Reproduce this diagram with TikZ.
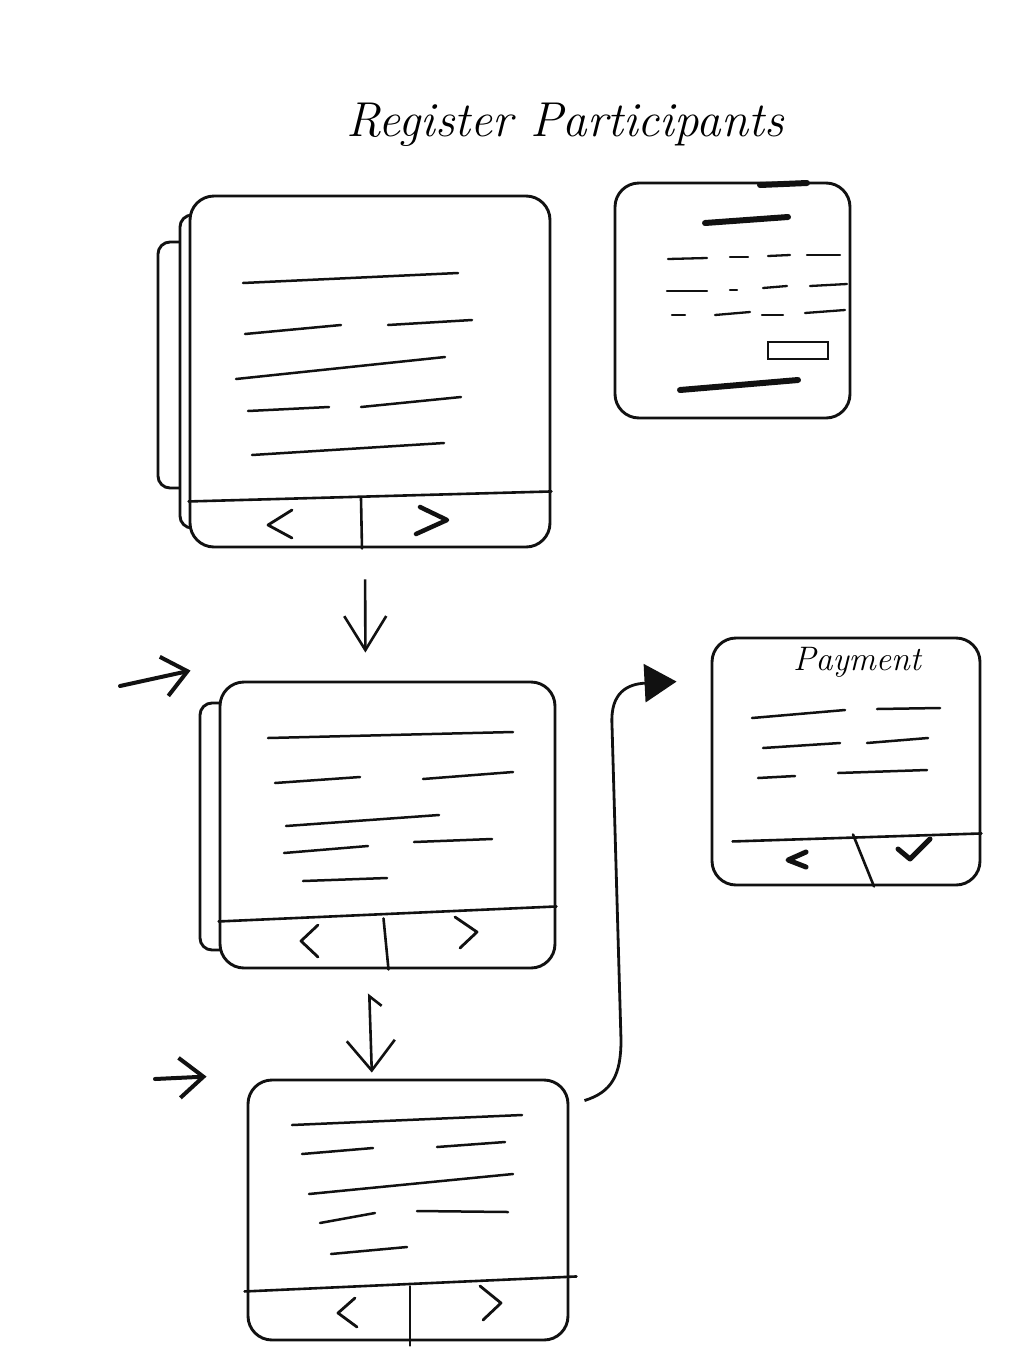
\documentclass[tikz,border=0pt]{standalone}
\usepackage{tikz}
\usetikzlibrary{arrows.meta}

\begin{document}
\begin{tikzpicture}[x=1pt,y=-1pt]

\definecolor{sketchink}{HTML}{111111}

\tikzset{
  screen/.style={
    draw=sketchink, fill=white, line width=2.9pt,
    rounded corners=24pt, inner sep=0pt
  },
  backsheet/.style={
    draw=sketchink, fill=white, line width=2.9pt, rounded corners=12pt
  },
  textline/.style={draw=sketchink, line width=2.5pt, line cap=round},
  boldline/.style={draw=sketchink, line width=6pt, line cap=round},
  barline/.style={draw=sketchink, line width=2.6pt, line cap=round},
  chevron/.style={
    draw=sketchink, line width=2.8pt, line cap=round, line join=round
  },
  flowarrow/.style={
    draw=sketchink, line width=2.6pt,
    -{Straight Barb[length=34pt,width=42pt]}
  },
  entryarrow/.style={
    draw=sketchink, line width=4pt, line cap=round,
    -{Straight Barb[length=24pt,width=40pt]}
  },
  paycurve/.style={
    draw=sketchink, line width=2.8pt,
    -{Triangle[length=32pt,width=38pt]}
  }
}

% page frame
\fill[white] (0,0) rectangle (1013,1350);
\useasboundingbox (0,0) rectangle (1013,1350);

\node[font=\fontsize{49}{56}\selectfont\itshape, anchor=base] (titletext)
  at (565,136) {Register Participants};

% First list screen, with two sheets behind it.
\draw[backsheet] (158,242) rectangle (260,488);
\draw[backsheet] (180,215) rectangle (280,528);
\node[screen, minimum width=360pt, minimum height=351pt] (pageone)
  at (370,371.5) {};
\draw[barline] ([yshift=47pt]pageone.south west)
  -- ([yshift=57pt]pageone.south east);
\draw[barline] ([xshift=-9pt,yshift=50pt]pageone.south)
  -- ([xshift=-8pt]pageone.south);
\foreach \xa/\ya/\xb/\yb in {
  243/283/458/273,
  245/334/341/325, 388/325/472/320,
  236/379/445/357,
  248/411/329/407, 361/407/461/397,
  252/455/444/443}
  \draw[textline] (\xa,\ya) -- (\xb,\yb);
\draw[chevron] (292,510) -- (268,525) -- (292,538);
\draw[chevron, line width=4.5pt] (420,507) -- (447,520) -- (416,534);

% Summary screen.
\node[screen, minimum width=235pt, minimum height=235pt] (summarypage)
  at (732.5,300.5) {};
\draw[boldline] (760,185) -- (807,183);
\draw[boldline] (705,223) -- (788,217);
\draw[boldline] (680,390) -- (798,380);
\foreach \xa/\ya/\xb/\yb in {
  668/259/707/258, 730/257/748/257, 768/256/790/255, 807/255/840/255,
  667/291/707/291, 730/290/737/290, 763/288/787/286, 810/286/847/284,
  672/315/685/315, 715/315/750/312, 762/315/783/315, 805/313/845/310}
  \draw[textline, line width=2.3pt] (\xa,\ya) -- (\xb,\yb);
\draw[textline, line width=2.3pt] (768,342) rectangle (828,359);

% Second list screen.
\draw[backsheet] (200,703) rectangle (280,950);
\node[screen, minimum width=335pt, minimum height=286pt] (pagethree)
  at (387.5,825) {};
\draw[barline] ([yshift=48pt]pagethree.south west)
  -- ([yshift=63pt]pagethree.south east);
\draw[barline] ([xshift=-4pt,yshift=51pt]pagethree.south)
  -- ([xshift=1pt]pagethree.south);
\foreach \xa/\ya/\xb/\yb in {
  268/738/513/732,
  275/783/360/777, 423/779/513/772,
  286/826/439/815,
  284/853/368/846, 414/842/492/839,
  303/881/387/878}
  \draw[textline] (\xa,\ya) -- (\xb,\yb);
\draw[chevron] (318,925) -- (301,941) -- (318,957);
\draw[chevron] (455,917) -- (477,932) -- (460,948);

% Last list screen.
\node[screen, minimum width=320pt, minimum height=260pt] (pagefour)
  at (408,1210) {};
\draw[barline] ([xshift=-2pt,yshift=50pt]pagefour.south west)
  -- ([xshift=7pt,yshift=65pt]pagefour.south east);
\draw[barline] ([xshift=2pt,yshift=55pt]pagefour.south)
  -- ([xshift=2pt,yshift=-4pt]pagefour.south);
\foreach \xa/\ya/\xb/\yb in {
  292/1125/522/1115,
  302/1154/373/1148, 437/1147/505/1142,
  309/1194/513/1174,
  320/1223/375/1213, 417/1211/508/1212,
  331/1254/407/1247}
  \draw[textline] (\xa,\ya) -- (\xb,\yb);
\draw[chevron] (355,1298) -- (338,1313) -- (357,1327);
\draw[chevron] (480,1286) -- (501,1303) -- (483,1320);

% Payment screen.
\node[screen, minimum width=268pt, minimum height=247pt] (paymentpage)
  at (846,761.5) {};
\node[font=\fontsize{34}{40}\selectfont\itshape] (paytitle)
  at (857,662) {Payment};
\draw[barline] ([xshift=22pt,yshift=45pt]paymentpage.south west)
  -- ([yshift=53pt]paymentpage.south east);
\draw[barline] ([xshift=7pt,yshift=52pt]paymentpage.south)
  -- ([xshift=28pt]paymentpage.south);
\foreach \xa/\ya/\xb/\yb in {
  752/718/845/710, 877/709/940/708,
  763/748/840/743, 867/743/928/738,
  758/778/795/776, 838/773/927/770}
  \draw[textline] (\xa,\ya) -- (\xb,\yb);
\draw[chevron, line width=5pt] (806,852) -- (788,860) -- (806,867);
\draw[chevron, line width=5pt] (898,849) -- (910,859) -- (930,839);

% Flow between screens.
\draw[flowarrow, shorten <=31pt, shorten >=28pt]
  ([xshift=-5pt]pageone.south) -- ([xshift=-22pt]pagethree.north);
\draw[flowarrow, shorten <=24pt, shorten >=6pt,
  arrows={Straight Barb[right,length=10pt,width=24pt]
    -Straight Barb[length=30pt,width=48pt]}]
  ([xshift=-19pt]pagethree.south) -- ([xshift=-36pt]pagefour.north);
\draw[paycurve]
  ([xshift=15pt,yshift=-22pt]pagefour.north east)
  .. controls (612,1092) and (621,1075) .. (621,1040)
  -- (612,725)
  .. controls (610,692) and (628,684) ..
  ([xshift=-34pt,yshift=-45pt]paymentpage.north west);

% Entry points.
\coordinate (entrytwo) at (120,686);
\coordinate (entryfour) at (155,1079);
\draw[entryarrow] (entrytwo)
  -- ([xshift=-28pt,yshift=10pt]pagethree.north west);
\draw[entryarrow] (entryfour)
  -- ([xshift=-40pt,yshift=2pt]pagefour.north west);

\end{tikzpicture}
\end{document}
